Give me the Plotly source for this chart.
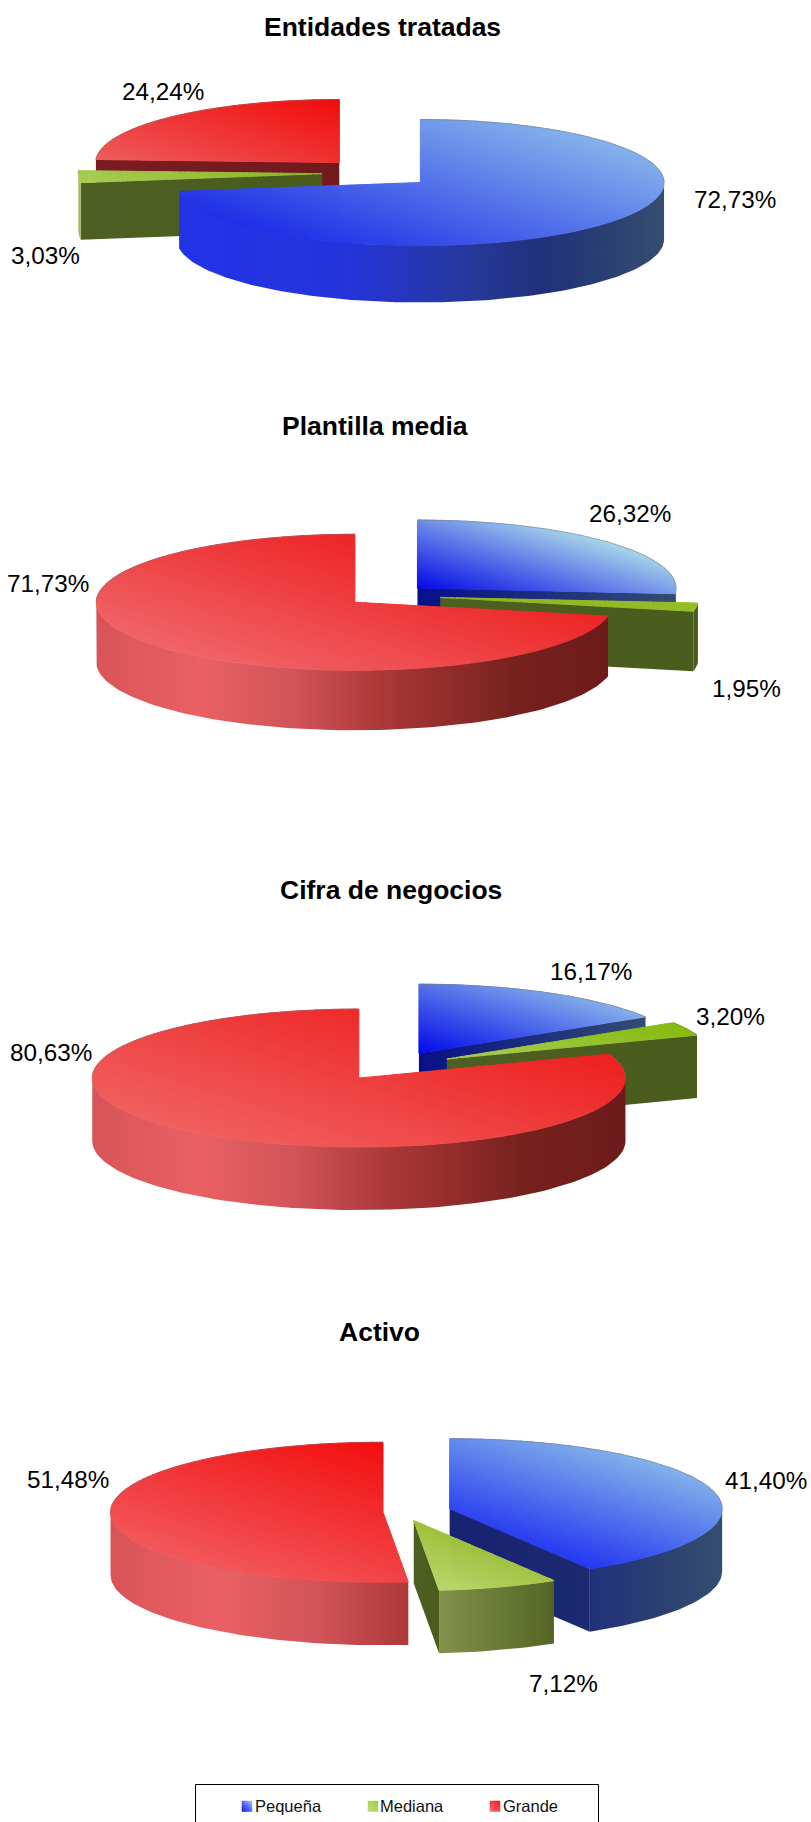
import numpy as np
import plotly.graph_objects as go

SERIES = ["Pequeña", "Mediana", "Grande"]
TITLES = ["Entidades tratadas", "Plantilla media", "Cifra de negocios", "Activo"]
V_ENTIDADES = [72.73, 3.03, 24.24]
V_PLANTILLA = [26.32, 1.95, 71.73]
V_CIFRA = [16.17, 3.20, 80.63]
V_ACTIVO = [41.40, 7.12, 51.48]
VALUES = [V_ENTIDADES, V_PLANTILLA, V_CIFRA, V_ACTIVO]

W, H = 811, 1822
FONT = "Liberation Sans, Arial, sans-serif"

# pie layout: centre, radii, depth, per-slice explosion
PIES = [
    dict(c=(378, 173), rx=243.7, ry=63, d=57, ex=[.23, .23, .23], title=(382, 27),
         lab=[(735, 199), (45, 255), (163, 91)]),
    dict(c=(387, 595.4), rx=258.6, ry=68, d=60, ex=[.16, .208, .16], title=(375, 426),
         lab=[(630, 513), (746, 688), (48, 583)]),
    dict(c=(391.3, 1066), rx=266.6, ry=69, d=63, ex=[.213, .232, .213], title=(391, 890),
         lab=[(591, 971), (730, 1016), (51, 1052)]),
    dict(c=(402.9, 1512), rx=272.5, ry=70, d=63, ex=[.178, .128, .073], title=(379, 1332),
         lab=[(766, 1480), (563, 1683), (68, 1479)]),
]

# top-face colours: (lower-left, upper-right)
TOPS = [
    [("#1f2fe8", "#85b2ec"), ("#a8cf55", "#8fb52a"), ("#ee5c5c", "#f20c0c")],
    [("#0408e6", "#a8d6ea"), ("#8fb820", "#96bf26"), ("#f06468", "#ee2424")],
    [("#0008ea", "#84aeea"), ("#abd05a", "#86bb0c"), ("#f0605f", "#ee2020")],
    [("#2436f2", "#82b2ea"), ("#bad86e", "#9fc03c"), ("#f2585c", "#f20e0e")],
]
WALL = [
    [(0, "#2232e8"), (.35, "#2434da"), (.6, "#27389c"), (.75, "#20307a"), (.88, "#2a3f72"), (1, "#344e70")],
    [(0, "#a8b868"), (.5, "#8c9c54"), (.78, "#4f6020"), (1, "#4a5c1c")],
    [(0, "#d85458"), (.2, "#ea6064"), (.38, "#d05458"), (.55, "#ac3838"), (.8, "#78221f"), (1, "#6c1a1a")],
]
RADIAL = [
    [(0, "#081088"), (1, "#344c72")],
    [(0, "#4d5f22"), (1, "#4a5c1c")],
    [(0, "#7a1c22"), (1, "#701a1e")],
]
RADIAL_BLUE_ACTIVO = [(0, "#172272"), (1, "#1c2a70")]
GRAD_DIR = (0.3, -0.95)


def hex2rgb(h):
    return np.array([int(h[i:i + 2], 16) for i in (1, 3, 5)], float)


def ring(cx, cy, rx, ry, a0, a1, n=None):
    n = n or max(3, int(abs(a1 - a0) / 1.5))
    a = np.radians(np.linspace(a0, a1, n))
    return np.column_stack([cx + rx * np.sin(a), cy - ry * np.cos(a)])


def clip(poly, d, lo, hi):
    def half(p, sign, lim):
        out = []
        for i in range(len(p)):
            A, B = p[i], p[(i + 1) % len(p)]
            fa, fb = sign * (A @ d - lim), sign * (B @ d - lim)
            if fa >= 0:
                out.append(A)
            if fa * fb < 0:
                out.append(A + (B - A) * fa / (fa - fb))
        return out
    p = half(list(poly), 1, lo)
    if len(p) > 2:
        p = half(p, -1, hi)
    return p


def band_fill(fig, polys, c0, c1, direction=GRAD_DIR, n=48, width=1.0):
    d = np.array(direction)
    d = d / np.linalg.norm(d)
    vals = np.concatenate([p @ d for p in polys])
    t0, t1 = vals.min(), vals.max()
    edges = np.linspace(t0, t1, n + 1)
    a, b = hex2rgb(c0), hex2rgb(c1)
    for i in range(n):
        xs, ys = [], []
        for p in polys:
            q = clip(p, d, edges[i], edges[i + 1])
            if len(q) > 2:
                q = np.array(q + [q[0]])
                xs += list(q[:, 0]) + [None]
                ys += list(q[:, 1]) + [None]
        if not xs:
            continue
        c = a + (b - a) * (i + .5) / n
        col = "rgb(%d,%d,%d)" % tuple(c)
        fig.add_trace(go.Scatter(x=xs, y=ys, mode="lines", fill="toself", fillcolor=col,
                                 line=dict(color=col, width=width), hoverinfo="skip", showlegend=False))


def grad_poly(fig, poly, scale, start, stop):
    poly = np.vstack([poly, poly[:1]])
    fig.add_trace(go.Scatter(
        x=poly[:, 0], y=poly[:, 1], mode="lines", fill="toself",
        line=dict(width=0, color="rgba(0,0,0,0)"),
        fillgradient=dict(type="horizontal", colorscale=[list(s) for s in scale], start=start, stop=stop),
        hoverinfo="skip", showlegend=False))


fig = go.Figure()

for p_i, (vals, pie, tops) in enumerate(zip(VALUES, PIES, TOPS)):
    rx, ry, dep = pie["rx"], pie["ry"], pie["d"]
    cum = np.cumsum([0] + vals)
    slices = []
    for i, v in enumerate(vals):
        a0, a1 = cum[i] * 3.6, cum[i + 1] * 3.6
        m = np.radians((a0 + a1) / 2)
        e = pie["ex"][i]
        cx = pie["c"][0] + e * rx * np.sin(m)
        cy = pie["c"][1] - e * ry * np.cos(m)
        slices.append((cy, i, a0, a1, cx))
    for cy, i, a0, a1, cx in sorted(slices):
        apex = np.array([cx, cy])
        # radial faces turned towards the viewer
        for ang, vis in ((a0, np.sin(np.radians(a0)) < -1e-6), (a1, np.sin(np.radians(a1)) > 1e-6)):
            if vis:
                t = np.radians(ang)
                tip = apex + [rx * np.sin(t), -ry * np.cos(t)]
                poly = np.array([apex, tip, tip + [0, dep], apex + [0, dep]])
                scale = RADIAL_BLUE_ACTIVO if (p_i == 3 and i == 0) else RADIAL[i]
                grad_poly(fig, poly, scale, min(apex[0], tip[0]), max(apex[0], tip[0]))
        # outer wall, front half only
        lo, hi = max(a0, 90), min(a1, 270)
        if hi > lo:
            arc = ring(cx, cy, rx, ry, lo, hi)
            poly = np.vstack([arc, (arc + [0, dep])[::-1]])
            grad_poly(fig, poly, WALL[i], cx - rx, cx + rx)
        # top face, cut in convex parts
        steps = int(np.ceil((a1 - a0) / 90))
        cuts = np.linspace(a0, a1, steps + 1)
        polys = [np.vstack([apex, ring(cx, cy, rx, ry, cuts[k], cuts[k + 1])]) for k in range(steps)]
        band_fill(fig, polys, tops[i][0], tops[i][1])
        # soft outline along the back of the rim only
        for lo, hi in ((a0, min(a1, 90)), (max(a0, 270), a1)):
            if hi > lo:
                rim = ring(cx, cy, rx, ry, lo, hi)
                fig.add_trace(go.Scatter(x=rim[:, 0], y=rim[:, 1], mode="lines",
                                         line=dict(color="rgba(120,120,120,.45)", width=1),
                                         hoverinfo="skip", showlegend=False))

annotations = []
for vals, pie, title in zip(VALUES, PIES, TITLES):
    annotations.append(dict(x=pie["title"][0], y=pie["title"][1], text="<b>%s</b>" % title,
                            showarrow=False, xanchor="center", yanchor="middle",
                            font=dict(family=FONT, size=26.5, color="black")))
    for v, pos in zip(vals, pie["lab"]):
        annotations.append(dict(x=pos[0], y=pos[1], text=("%.2f%%" % v).replace(".", ","),
                                showarrow=False, xanchor="center", yanchor="middle",
                                font=dict(family=FONT, size=24.3, color="black")))

# legend
LEG_SW = [242, 368, 490]
LEG_TX = [255, 380, 503]
LEG_COL = [("#0000f8", "#a0c0fa"), ("#c0dc70", "#a0c840"), ("#f86a6c", "#f01010")]
for name, sx, tx, (c0, c1) in zip(SERIES, LEG_SW, LEG_TX, LEG_COL):
    sq = np.array([[sx, 1801], [sx + 10, 1801], [sx + 10, 1811.5], [sx, 1811.5]], float)
    band_fill(fig, [sq], c0, c1, direction=(.7, -.7), n=10, width=.4)
    annotations.append(dict(x=tx, y=1806, text=name, showarrow=False, xanchor="left", yanchor="middle",
                            xshift=-2, font=dict(family=FONT, size=16.5, color="#111111")))

fig.update_layout(
    width=W, height=H, margin=dict(l=0, r=0, t=0, b=0),
    paper_bgcolor="white", plot_bgcolor="white", showlegend=False,
    xaxis=dict(range=[0, W], visible=False, fixedrange=True),
    yaxis=dict(range=[H, 0], visible=False, fixedrange=True),
    annotations=annotations,
    shapes=[dict(type="rect", x0=195.5, x1=598.5, y0=1784.5, y1=1830,
                 line=dict(color="black", width=1), fillcolor="rgba(0,0,0,0)")],
)

fig.write_html("out.html", post_script="document.body.style.margin='0';document.body.style.overflow='hidden';",
               config=dict(displayModeBar=False))
